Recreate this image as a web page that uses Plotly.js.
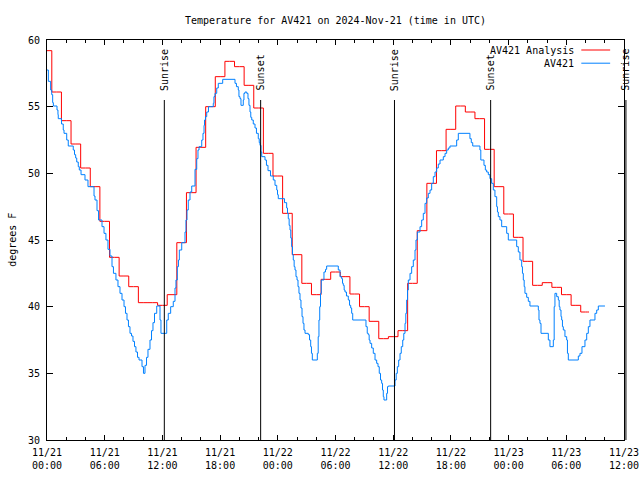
<!DOCTYPE html>
<html>
<head>
<meta charset="utf-8">
<script src="https://cdn.plot.ly/plotly-3.0.1.min.js"></script>
<style>html,body{margin:0;padding:0;background:#fff;}#chart{width:640px;height:480px;}</style>
</head>
<body>
<div id="chart"></div>
<script>
// ---- data ----
const startTime = "2024-11-21 00:00";
const endTime = "2024-11-23 12:00";

// AV421 Analysis: hourly values (hour offset = index), last value held to analysisEndHour
const analysisValues = [59.2, 56.1, 53.95, 52.2, 50.4, 49.0, 46.4, 43.7, 42.3, 41.5,
  40.3, 40.3, 40.1, 40.9, 44.8, 48.55, 51.95, 55.0, 57.25, 58.4,
  58.0, 56.6, 54.9, 51.5, 49.8, 47.0, 43.9, 41.75, 40.9, 42.05,
  42.6, 42.25, 40.95, 40.0, 38.9, 37.6, 37.75, 38.2, 41.75, 45.7,
  49.25, 51.7, 53.3, 55.05, 54.6, 54.1, 51.8, 49.0, 46.95, 45.2,
  43.4, 41.6, 41.8, 41.45, 40.9, 40.1, 39.6];
const analysisEndHour = 56.36;

// AV421 observations: hour offsets and temperatures (deg F)
const obsHours = [0.00,0.14,0.38,0.49,0.59,0.66,1.04,1.14,1.17,1.51,1.69,1.77,2.05,2.21,2.73,2.86,2.98,3.09,3.25,3.36,
  3.54,3.95,4.26,4.89,4.99,5.20,5.36,5.72,5.93,6.13,6.34,6.55,6.76,6.91,7.17,7.38,7.59,7.80,8.01,8.16,
  8.32,8.47,8.63,8.79,8.94,9.10,9.25,9.41,9.57,9.88,10.03,10.19,10.35,10.50,10.71,10.87,11.02,11.18,11.41,11.75,
  11.85,12.45,12.61,12.86,13.13,13.31,13.41,13.55,13.67,13.76,14.01,14.35,14.45,14.56,14.69,14.87,15.05,15.39,15.57,15.70,
  15.81,16.09,16.22,16.33,16.38,16.48,16.61,16.79,17.29,17.36,17.47,17.65,17.81,18.27,19.55,19.70,19.89,19.96,20.07,20.17,
  20.41,20.48,20.59,20.77,20.90,21.00,21.11,21.19,21.29,21.45,21.63,21.78,21.97,22.07,22.15,22.25,22.33,22.67,22.82,22.98,
  23.24,23.53,23.71,23.89,23.97,24.05,24.70,24.92,25.01,25.09,25.18,25.27,25.35,25.44,25.53,25.61,25.70,25.79,25.89,26.00,
  26.10,26.20,26.31,26.41,26.52,26.62,26.72,26.83,27.17,27.30,27.42,27.50,27.59,28.11,28.20,28.28,28.36,28.44,28.52,28.80,
  28.96,29.08,30.29,30.47,30.64,30.73,30.81,30.90,30.99,31.14,31.33,31.46,31.58,31.68,31.79,33.17,33.30,33.41,33.50,33.59,
  33.76,33.93,34.11,34.28,34.42,34.55,34.68,34.80,34.89,34.97,35.04,35.32,35.41,35.49,36.19,36.31,36.43,36.57,36.71,36.84,
  36.99,37.10,37.23,37.31,37.40,37.49,37.57,37.75,37.92,38.09,38.27,38.37,38.51,38.79,38.96,39.13,39.31,39.48,39.65,39.83,
  40.00,40.17,40.35,40.52,40.69,40.87,41.21,41.39,41.56,41.73,41.90,42.60,42.77,43.98,44.12,44.27,45.02,45.11,45.44,45.58,
  45.72,45.89,46.06,46.24,46.41,46.58,46.76,46.84,46.93,47.10,47.28,47.80,47.97,48.84,49.01,49.18,49.36,49.44,49.53,49.62,
  49.70,49.88,50.05,50.22,51.09,51.16,51.26,51.37,52.13,52.30,52.65,52.74,52.82,53.00,53.17,53.26,53.34,53.45,53.52,53.60,
  53.69,53.86,54.04,54.12,54.21,55.25,55.42,55.63,55.94,56.12,56.29,56.46,56.98,57.16,57.33,58.02];
const obsTemps = [57.75,56.9,56.25,55.9,55.3,55.05,54.75,54.4,54.1,53.7,53.25,53.0,52.5,52.05,51.75,51.4,51.15,50.85,50.5,50.25,
  49.9,49.5,49.0,48.3,48.0,47.2,46.5,46.0,45.5,45.0,44.3,43.8,43.0,42.5,42.0,41.5,41.0,40.5,40.0,39.5,
  39.0,38.5,38.0,37.8,37.4,37.0,36.6,36.2,36.0,35.5,35.0,35.6,36.2,36.8,37.5,38.2,38.8,39.5,40.05,39.0,
  38.0,39.0,39.5,40.0,40.4,41.4,42.0,43.0,43.5,44.25,44.8,45.6,46.5,47.25,48.0,48.6,49.05,50.3,51.1,51.75,
  52.0,52.5,53.0,53.6,54.0,54.25,54.6,55.0,55.25,55.75,56.0,56.4,56.75,57.05,56.75,56.5,56.25,55.75,55.6,55.1,
  55.5,56.0,56.1,56.0,55.6,55.1,54.6,54.2,54.0,53.7,53.4,53.0,52.6,52.3,52.1,51.6,51.25,51.0,50.6,50.2,
  49.8,49.5,49.1,48.75,48.4,48.1,47.8,47.4,47.0,46.6,46.1,45.75,45.15,44.5,43.9,43.5,43.0,42.75,42.25,42.0,
  41.5,41.0,40.5,39.9,39.25,38.75,38.25,38.0,37.9,37.5,37.0,36.5,36.0,36.5,37.75,39.0,40.0,41.0,42.0,42.6,
  42.8,43.05,42.75,42.25,42.1,41.75,41.6,41.25,41.1,40.8,40.5,40.1,39.9,39.5,39.0,38.5,38.0,37.9,37.5,37.25,
  36.9,36.5,36.0,35.75,35.5,35.0,34.5,34.25,33.75,33.25,33.0,33.5,34.0,34.05,34.5,35.0,35.5,36.0,36.5,37.0,
  37.5,38.0,38.75,39.5,40.5,41.25,42.0,42.5,43.0,43.5,44.25,45.0,45.6,46.0,46.5,47.0,47.75,48.15,48.5,48.75,
  49.25,49.75,50.1,50.4,50.7,51.0,51.25,51.5,51.75,51.9,52.05,52.5,53.0,52.6,52.3,52.05,51.75,51.0,50.6,50.25,
  50.1,49.9,49.6,49.25,48.75,48.25,47.5,47.1,46.75,46.5,46.0,45.5,45.0,44.5,44.1,43.5,43.0,42.5,42.0,41.5,
  41.0,40.7,40.4,40.05,39.75,39.0,38.75,38.0,37.5,37.0,37.5,40.0,41.0,40.75,40.5,40.0,39.75,39.25,39.0,38.5,
  38.25,37.75,37.5,36.5,36.0,36.3,36.5,37.0,37.5,38.0,38.5,39.0,39.5,39.75,40.05,40.05];

const sunEventTimes = ["2024-11-21 12:12", "2024-11-21 22:13", "2024-11-22 12:08", "2024-11-22 22:08", "2024-11-23 12:12"];
const sunEventLabels = ["Sunrise", "Sunset", "Sunrise", "Sunset", "Sunrise"];

const yTickVals = [30, 35, 40, 45, 50, 55, 60];

// ---- helpers ----
const FONT = "DejaVu Sans Mono, Liberation Mono, monospace";
function toMs(s) { return Date.parse(s.replace(" ", "T") + ":00Z"); }
const t0 = toMs(startTime), t1 = toMs(endTime);
function hourToStr(h) {
  return new Date(t0 + h * 3600000).toISOString().slice(0, 19).replace("T", " ");
}
const analysisX = analysisValues.map((v, i) => hourToStr(i)).concat([hourToStr(analysisEndHour)]);
const analysisY = analysisValues.concat([analysisValues[analysisValues.length - 1]]);
const obsX = obsHours.map(hourToStr);

const RED = "#ff0000", BLUE = "#0080ff";
const traces = [
  {x: analysisX, y: analysisY, type: "scatter", mode: "lines", name: "AV421 Analysis",
   line: {color: RED, width: 1, shape: "hvh"}},
  {x: obsX, y: obsTemps, type: "scatter", mode: "lines", name: "AV421",
   line: {color: BLUE, width: 1, shape: "hv"}}
];

const shapes = [], annotations = [];
sunEventTimes.forEach((t, i) => {
  const px = (toMs(t) - t0) / (t1 - t0);
  shapes.push({type: "line", xref: "paper", yref: "paper", x0: px, x1: px, y0: 0, y1: 0.85,
               line: {color: "#000", width: 1}});
  annotations.push({xref: "paper", yref: "paper", x: px, y: 0.868, xanchor: "center", yanchor: "bottom",
                    text: sunEventLabels[i], textangle: -90, showarrow: false,
                    font: {family: FONT, size: 10, color: "#000"}});
});
// legend drawn manually (sample line to the right of text)
[[traces[0].name, RED, 0.975], [traces[1].name, BLUE, 0.942]].forEach(([name, col, y]) => {
  annotations.push({xref: "paper", yref: "paper", x: 0.917, y: y, xanchor: "right", yanchor: "middle",
                    text: name, showarrow: false, font: {family: FONT, size: 10, color: "#000"}});
  shapes.push({type: "line", xref: "paper", yref: "paper", x0: 0.926, x1: 0.976, y0: y, y1: y,
               line: {color: col, width: 1}});
});
annotations.push({xref: "paper", yref: "paper", x: -0.061, y: 0.5, xanchor: "center", yanchor: "middle",
                  text: "degrees F", textangle: -90, showarrow: false,
                  font: {family: FONT, size: 10, color: "#000"}});

const layout = {
  width: 640, height: 480,
  margin: {l: 47, r: 16, t: 40, b: 40},
  paper_bgcolor: "#fff", plot_bgcolor: "#fff",
  showlegend: false,
  title: {text: "Temperature for AV421 on 2024-Nov-21 (time in UTC)", x: 0.5, xref: "paper",
          y: 0.958, yanchor: "middle", font: {family: FONT, size: 10, color: "#000"}},
  font: {family: FONT, size: 10, color: "#000"},
  xaxis: {type: "date", range: [startTime, endTime], showgrid: false, zeroline: false,
          showline: true, linecolor: "#000", linewidth: 1, mirror: "ticks",
          ticks: "inside", ticklen: 5, tickcolor: "#000",
          tick0: startTime, dtick: 6 * 3600000, tickformat: "%m/%d<br>%H:%M",
          ticklabelstandoff: 3,
          minor: {dtick: 2 * 3600000, ticks: "inside", ticklen: 3, tickcolor: "#000", showgrid: false},
          tickfont: {family: FONT, size: 10, color: "#000"}},
  yaxis: {range: [30, 60], showgrid: false, zeroline: false,
          showline: true, linecolor: "#000", linewidth: 1, mirror: "ticks",
          ticks: "inside", ticklen: 6, tickcolor: "#000",
          tickmode: "array", tickvals: yTickVals, ticktext: yTickVals.map(String),
          ticklabelstandoff: 4,
          tickfont: {family: FONT, size: 10, color: "#000"}},
  shapes: shapes,
  annotations: annotations
};

Plotly.newPlot("chart", traces, layout, {staticPlot: true, displayModeBar: false});
</script>
</body>
</html>
